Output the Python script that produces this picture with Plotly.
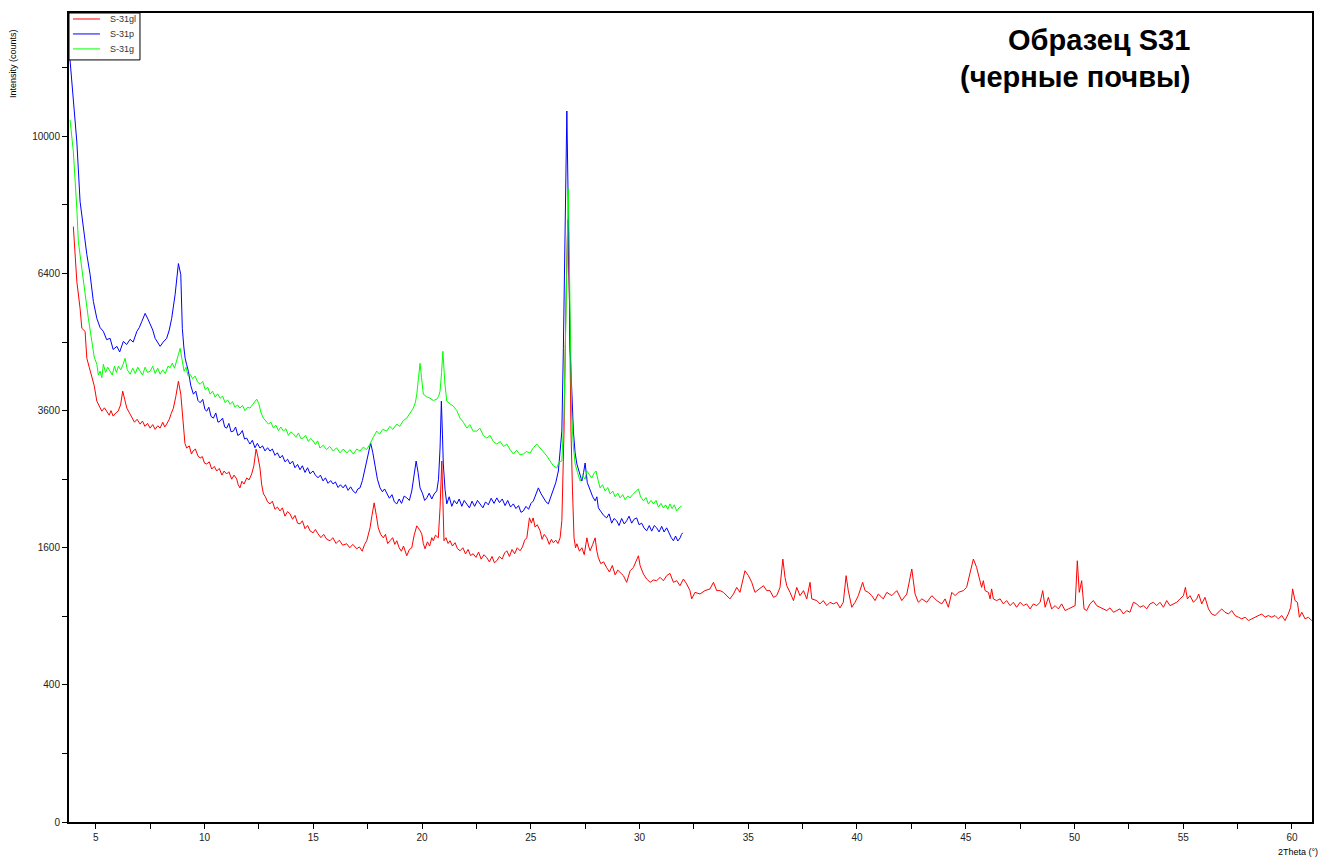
import numpy as np
import plotly.graph_objects as go

# ---- data: (2Theta in degrees, intensity in counts) ----
gl_pts = [
    (3.97, 7541), (4.13, 6215), (4.28, 5610), (4.36, 5184), (4.51, 5121), (4.59, 4575), (4.70, 4400),
    (4.82, 4190), (4.93, 4050), (5.05, 3768), (5.15, 3700), (5.28, 3591), (5.40, 3650), (5.51, 3591),
    (5.62, 3520), (5.70, 3600), (5.80, 3505), (5.92, 3560), (6.03, 3591), (6.14, 3700), (6.24, 3949),
    (6.33, 3800), (6.43, 3644), (6.55, 3560), (6.66, 3470), (6.78, 3400), (6.90, 3450), (7.04, 3368),
    (7.15, 3420), (7.26, 3330), (7.38, 3380), (7.50, 3301), (7.62, 3360), (7.73, 3280), (7.85, 3340),
    (7.96, 3301), (8.08, 3400), (8.17, 3320), (8.26, 3368), (8.38, 3450), (8.47, 3550), (8.57, 3644),
    (8.68, 3850), (8.80, 4133), (8.91, 3894), (9.03, 3251),
    (9.10, 3050), (9.18, 2975), (9.30, 3010), (9.40, 2880), (9.47, 2927), (9.58, 2960), (9.70, 2850),
    (9.80, 2819), (9.90, 2840), (10.00, 2740), (10.10, 2727), (10.22, 2760), (10.33, 2650), (10.45, 2690),
    (10.56, 2621), (10.68, 2660), (10.80, 2560), (10.90, 2620), (11.02, 2577), (11.12, 2610), (11.25, 2500),
    (11.36, 2560), (11.48, 2504), (11.55, 2420), (11.63, 2375), (11.72, 2470), (11.82, 2430), (11.94, 2518),
    (12.05, 2490), (12.17, 2577), (12.27, 2700), (12.37, 2959), (12.45, 2850), (12.55, 2666), (12.63, 2420),
    (12.71, 2290), (12.80, 2250), (12.90, 2180), (13.01, 2153), (13.12, 2190), (13.24, 2080), (13.35, 2110),
    (13.47, 2059), (13.58, 2100), (13.70, 1990), (13.82, 2050), (13.93, 2020), (14.05, 1950), (14.16, 2000),
    (14.28, 1900), (14.39, 1891), (14.50, 1930), (14.62, 1830), (14.74, 1870), (14.85, 1804), (14.99, 1779),
    (15.10, 1820), (15.22, 1767), (15.35, 1720), (15.48, 1760), (15.62, 1700), (15.77, 1683), (15.90, 1720),
    (16.05, 1650), (16.20, 1690), (16.35, 1630), (16.54, 1647), (16.68, 1600), (16.82, 1640), (17.00, 1588),
    (17.12, 1610), (17.25, 1560), (17.36, 1640), (17.46, 1683), (17.61, 1841), (17.70, 2000), (17.80, 2167),
    (17.90, 2000), (17.99, 1841), (18.10, 1760), (18.22, 1718), (18.32, 1760), (18.42, 1650), (18.53, 1683),
    (18.65, 1720), (18.75, 1640), (18.84, 1683), (18.95, 1600), (19.05, 1560), (19.15, 1620), (19.30, 1508),
    (19.42, 1580), (19.53, 1600), (19.64, 1750), (19.76, 1866), (19.88, 1820), (19.99, 1767), (20.06, 1650),
    (20.14, 1588), (20.25, 1670), (20.35, 1620), (20.45, 1720), (20.52, 1683), (20.62, 1750), (20.75, 1718),
    (20.83, 2100), (20.91, 2772), (20.96, 2200), (21.01, 1683), (21.10, 1720), (21.20, 1650), (21.29, 1683),
    (21.40, 1620), (21.52, 1660), (21.63, 1590), (21.75, 1565), (21.88, 1600), (22.00, 1530), (22.12, 1580),
    (22.23, 1510), (22.35, 1531), (22.48, 1490), (22.60, 1550), (22.72, 1470), (22.85, 1520), (22.98, 1486),
    (23.10, 1440), (23.22, 1500), (23.33, 1430), (23.44, 1452), (23.56, 1500), (23.68, 1470), (23.80, 1540),
    (23.90, 1565), (24.02, 1500), (24.14, 1580), (24.26, 1530), (24.38, 1600), (24.51, 1565), (24.62, 1610),
    (24.72, 1690), (24.82, 1718), (24.94, 1968), (25.03, 1900), (25.11, 1968), (25.20, 1850), (25.30, 1880),
    (25.43, 1804), (25.52, 1700), (25.62, 1760), (25.74, 1718), (25.85, 1640), (25.95, 1700), (26.04, 1659),
    (26.15, 1690), (26.25, 1650), (26.35, 1718),
    (26.43, 1930), (26.53, 3251), (26.62, 5765), (26.70, 7718), (26.78, 5765), (26.85, 3251), (26.92, 2332),
    (26.99, 1718), (27.06, 1600), (27.12, 1647), (27.24, 1560), (27.35, 1600), (27.46, 1520), (27.58, 1718),
    (27.66, 1620), (27.73, 1565), (27.85, 1640), (27.96, 1718), (28.04, 1560), (28.11, 1486), (28.22, 1420),
    (28.35, 1440), (28.49, 1376), (28.62, 1330), (28.75, 1400), (28.88, 1300), (29.00, 1350),
    (29.11, 1325), (29.26, 1291), (29.41, 1222), (29.57, 1343), (29.72, 1379), (29.87, 1452), (29.95, 1508),
    (30.03, 1397), (30.18, 1308), (30.33, 1256), (30.49, 1222), (30.64, 1246), (30.79, 1239), (30.95, 1273),
    (31.10, 1239), (31.25, 1291), (31.40, 1315), (31.56, 1222), (31.71, 1239), (31.86, 1188), (32.02, 1256),
    (32.17, 1205), (32.32, 1139), (32.40, 1059), (32.55, 1122), (32.78, 1106), (33.01, 1139), (33.24, 1156),
    (33.40, 1222), (33.55, 1139), (33.70, 1139), (33.86, 1122), (34.01, 1090), (34.16, 1059), (34.32, 1106),
    (34.47, 1171), (34.62, 1122), (34.78, 1256), (34.85, 1343), (35.01, 1291), (35.16, 1222), (35.31, 1122),
    (35.54, 1156), (35.70, 1188), (35.85, 1139), (36.00, 1139), (36.16, 1074), (36.31, 1090), (36.46, 1171),
    (36.59, 1471), (36.69, 1273), (36.77, 1188), (36.92, 1122), (37.08, 1043), (37.23, 1171), (37.38, 1090),
    (37.54, 1139), (37.69, 1059), (37.84, 1222), (37.92, 1059), (38.15, 1043), (38.30, 1012), (38.45, 1043),
    (38.61, 996), (38.76, 1027), (38.91, 1012), (39.07, 1027), (39.22, 975), (39.37, 1027), (39.50, 1291),
    (39.60, 1139), (39.76, 981), (39.91, 1027), (40.06, 1090), (40.26, 1222), (40.37, 1139), (40.52, 1122),
    (40.68, 1090), (40.83, 1043), (40.98, 1106), (41.21, 1059), (41.37, 1122), (41.60, 1090), (41.83, 1139),
    (42.06, 1043), (42.29, 1106), (42.52, 1362), (42.67, 1106), (42.82, 1027), (42.98, 1059), (43.21, 1027),
    (43.44, 1090), (43.67, 1043), (43.90, 1012), (44.05, 1059), (44.20, 981), (44.36, 1122), (44.51, 1090),
    (44.66, 1122), (44.89, 1139), (45.04, 1171), (45.20, 1308), (45.35, 1471), (45.50, 1379), (45.66, 1222),
    (45.73, 1171), (45.81, 1239), (45.89, 1139), (46.04, 1122), (46.12, 1059), (46.19, 1156), (46.27, 1059),
    (46.42, 1043), (46.58, 1059), (46.73, 1012), (46.88, 1043), (47.04, 996), (47.19, 1027), (47.34, 981),
    (47.50, 1027), (47.65, 996), (47.80, 1012), (47.96, 966), (48.11, 1012), (48.26, 996), (48.42, 1027),
    (48.54, 1139), (48.65, 981), (48.80, 1074), (48.95, 966), (49.11, 996), (49.26, 966), (49.41, 1012),
    (49.57, 951), (49.72, 966), (49.87, 981), (50.03, 996), (50.13, 1452), (50.22, 1122), (50.33, 1239),
    (50.44, 966), (50.56, 951), (50.71, 1012), (50.87, 1043), (51.02, 996), (51.17, 981), (51.33, 966),
    (51.48, 951), (51.63, 975), (51.79, 936), (51.94, 951), (52.09, 966), (52.25, 921), (52.40, 951),
    (52.55, 936), (52.71, 1027), (52.86, 1012), (53.01, 981), (53.17, 996), (53.32, 966), (53.47, 1012),
    (53.63, 1027), (53.78, 996), (53.93, 1027), (54.09, 981), (54.24, 1043), (54.39, 996), (54.55, 1012),
    (54.70, 1027), (54.85, 1059), (55.01, 1090), (55.10, 1171), (55.19, 1059), (55.31, 1090), (55.47, 1027),
    (55.62, 1059), (55.71, 1106), (55.85, 1012), (56.00, 1074), (56.16, 966), (56.31, 921), (56.46, 907),
    (56.62, 936), (56.77, 966), (56.92, 936), (57.08, 921), (57.23, 951), (57.38, 907), (57.54, 892),
    (57.69, 878), (57.84, 892), (58.00, 863), (58.15, 878), (58.30, 892), (58.45, 907), (58.61, 921),
    (58.76, 892), (58.91, 907), (59.07, 892), (59.22, 907), (59.37, 878), (59.53, 907), (59.68, 863),
    (59.83, 921), (59.94, 981), (60.03, 1156), (60.14, 1043), (60.25, 1027), (60.34, 892), (60.45, 936),
    (60.60, 878), (60.75, 892), (60.91, 863)]

p_pts = [
    (3.80, 12500), (3.97, 11131), (4.13, 9841), (4.28, 8188), (4.43, 7497), (4.59, 6851), (4.74, 6376),
    (4.89, 5765), (5.05, 5395), (5.20, 5200), (5.35, 5121), (5.50, 4950), (5.66, 4977), (5.80, 4750),
    (5.97, 4813), (6.10, 4700), (6.27, 4915), (6.42, 4850), (6.58, 4956), (6.72, 4900), (6.89, 5121),
    (7.00, 5200), (7.12, 5332), (7.27, 5503), (7.38, 5400), (7.50, 5270), (7.62, 5150), (7.73, 4977),
    (7.85, 4900), (7.96, 4813), (8.10, 4900), (8.26, 4977), (8.38, 5150), (8.49, 5395), (8.65, 5920),
    (8.80, 6635), (8.91, 6376), (8.98, 5184),
    (9.05, 4800), (9.11, 4575), (9.18, 4450), (9.26, 4320), (9.37, 4050), (9.49, 3894), (9.60, 3950),
    (9.70, 3780), (9.80, 3740), (9.92, 3800), (10.02, 3620), (10.10, 3591), (10.20, 3660), (10.30, 3500),
    (10.41, 3470), (10.52, 3560), (10.62, 3400), (10.72, 3420), (10.83, 3470), (10.93, 3320), (11.02, 3301),
    (11.12, 3380), (11.22, 3240), (11.33, 3251), (11.43, 3320), (11.53, 3180), (11.63, 3200), (11.74, 3260),
    (11.84, 3120), (11.94, 3136), (12.02, 3080), (12.09, 3039), (12.20, 3100), (12.32, 2980), (12.43, 3050),
    (12.55, 2975), (12.67, 3010), (12.78, 2930), (12.90, 2980), (13.01, 2927), (13.12, 2960), (13.24, 2860),
    (13.35, 2900), (13.47, 2819), (13.58, 2860), (13.70, 2760), (13.82, 2800), (13.93, 2727), (14.05, 2770),
    (14.16, 2670), (14.28, 2720), (14.39, 2640), (14.50, 2700), (14.62, 2600), (14.74, 2670), (14.85, 2580),
    (14.99, 2621), (15.10, 2560), (15.22, 2520), (15.33, 2560), (15.45, 2475), (15.56, 2520), (15.68, 2440),
    (15.80, 2480), (15.91, 2431), (16.02, 2460), (16.14, 2380), (16.25, 2420), (16.37, 2375), (16.48, 2420),
    (16.60, 2340), (16.72, 2390), (16.83, 2332), (16.95, 2300), (17.05, 2360), (17.15, 2375), (17.26, 2480),
    (17.38, 2666), (17.50, 2850), (17.64, 3055), (17.74, 2900), (17.84, 2727), (17.95, 2500), (18.07, 2375),
    (18.18, 2320), (18.28, 2360), (18.38, 2290), (18.50, 2230), (18.62, 2280), (18.73, 2180), (18.84, 2153),
    (18.95, 2220), (19.06, 2160), (19.18, 2260), (19.30, 2235), (19.42, 2200), (19.53, 2332), (19.63, 2550),
    (19.73, 2772), (19.82, 2600), (19.91, 2375), (20.02, 2300), (20.12, 2200), (20.22, 2235), (20.33, 2300),
    (20.45, 2220), (20.56, 2290), (20.68, 2332), (20.76, 2500), (20.83, 2975), (20.89, 3768), (20.94, 3200),
    (20.98, 2727), (21.06, 2350), (21.14, 2153), (21.25, 2250), (21.37, 2120), (21.48, 2200), (21.60, 2153),
    (21.71, 2220), (21.83, 2120), (21.94, 2200), (22.06, 2153), (22.18, 2100), (22.30, 2190), (22.42, 2120),
    (22.55, 2200), (22.67, 2153), (22.80, 2100), (22.92, 2180), (23.05, 2140), (23.18, 2230), (23.31, 2160),
    (23.44, 2235), (23.56, 2170), (23.69, 2220), (23.82, 2130), (23.94, 2200), (24.07, 2110), (24.20, 2153),
    (24.32, 2090), (24.44, 2130), (24.55, 2040), (24.66, 2059), (24.78, 2120), (24.90, 2080), (25.01, 2160),
    (25.12, 2193), (25.24, 2300), (25.35, 2375), (25.46, 2300), (25.58, 2235), (25.70, 2180), (25.81, 2153),
    (25.92, 2250), (26.04, 2332), (26.15, 2450), (26.27, 2621),
    (26.43, 3251), (26.50, 4774), (26.58, 7845), (26.66, 10755), (26.73, 7845), (26.81, 4774), (26.96, 3251),
    (27.04, 2900), (27.12, 2727), (27.24, 2600), (27.35, 2475), (27.43, 2600), (27.50, 2742), (27.60, 2450),
    (27.73, 2332), (27.85, 2250), (27.96, 2194), (28.04, 2250), (28.11, 2099), (28.22, 2050), (28.35, 2000),
    (28.49, 1968), (28.60, 2020), (28.72, 1900), (28.83, 1960), (28.95, 1930), (29.06, 1870), (29.18, 1960),
    (29.30, 1890), (29.41, 1930), (29.52, 1990), (29.64, 1900), (29.75, 1950), (29.87, 1968), (29.98, 1880),
    (30.10, 1900), (30.21, 1840), (30.33, 1804), (30.45, 1870), (30.56, 1800), (30.68, 1870), (30.79, 1841),
    (30.90, 1790), (31.02, 1860), (31.13, 1790), (31.25, 1841), (31.37, 1760), (31.46, 1720), (31.56, 1683),
    (31.66, 1740), (31.76, 1680), (31.87, 1718), (31.93, 1760), (31.99, 1779)]

g_pts = [
    (3.82, 10486), (3.97, 9555), (4.13, 8001), (4.20, 7166), (4.36, 6517), (4.51, 5921), (4.66, 5395),
    (4.82, 4915), (4.93, 4600), (5.05, 4457), (5.12, 4250), (5.20, 4323), (5.28, 4200), (5.35, 4457),
    (5.45, 4300), (5.55, 4400), (5.66, 4323), (5.76, 4250), (5.86, 4420), (5.95, 4300), (6.04, 4419),
    (6.15, 4350), (6.25, 4450), (6.35, 4575), (6.45, 4350), (6.58, 4265), (6.70, 4380), (6.82, 4280),
    (6.93, 4400), (7.04, 4323), (7.15, 4250), (7.27, 4400), (7.38, 4300), (7.50, 4323), (7.62, 4420),
    (7.73, 4280), (7.85, 4380), (7.96, 4265), (8.08, 4350), (8.20, 4280), (8.32, 4420), (8.42, 4390),
    (8.52, 4480), (8.62, 4380), (8.73, 4575), (8.80, 4650), (8.88, 4774), (8.97, 4500), (9.06, 4323),
    (9.15, 4400), (9.25, 4230), (9.34, 4265), (9.45, 4180), (9.57, 4230), (9.68, 4120), (9.80, 4077),
    (9.92, 4130), (10.03, 3980), (10.15, 4020), (10.26, 3894), (10.37, 3950), (10.49, 3840), (10.60, 3900),
    (10.72, 3821), (10.83, 3860), (10.95, 3740), (11.06, 3790), (11.18, 3711), (11.29, 3760), (11.40, 3660),
    (11.52, 3700), (11.63, 3644), (11.75, 3690), (11.86, 3600), (11.98, 3660), (12.09, 3644), (12.20, 3700),
    (12.30, 3760), (12.40, 3803), (12.50, 3720), (12.60, 3560), (12.71, 3470), (12.82, 3420), (12.94, 3370),
    (13.05, 3400), (13.17, 3301), (13.28, 3350), (13.40, 3260), (13.51, 3320), (13.63, 3251), (13.74, 3290),
    (13.86, 3180), (13.97, 3240), (14.09, 3203), (14.20, 3150), (14.32, 3220), (14.43, 3130), (14.54, 3136),
    (14.65, 3180), (14.77, 3080), (14.88, 3130), (15.00, 3087), (15.10, 3030), (15.20, 3090), (15.31, 2975),
    (15.46, 3020), (15.61, 2950), (15.76, 3000), (15.92, 2927), (16.07, 2980), (16.23, 2900), (16.38, 2960),
    (16.54, 2896), (16.69, 2950), (16.84, 2880), (17.00, 2960), (17.15, 2927), (17.30, 2990), (17.45, 2950),
    (17.61, 3039), (17.76, 3150), (17.92, 3251), (18.05, 3200), (18.20, 3280), (18.38, 3251), (18.52, 3330),
    (18.66, 3280), (18.84, 3368), (18.98, 3330), (19.14, 3430), (19.30, 3470), (19.45, 3560), (19.60, 3644),
    (19.70, 3750), (19.76, 3894), (19.84, 4200), (19.91, 4477), (19.98, 4200), (20.06, 3894), (20.20, 3850),
    (20.37, 3821), (20.52, 3780), (20.68, 3803), (20.76, 3850), (20.83, 3949), (20.90, 4300), (20.96, 4713),
    (21.05, 4100), (21.14, 3768), (21.29, 3720), (21.44, 3679), (21.60, 3600), (21.75, 3470), (21.90, 3400),
    (22.06, 3301), (22.20, 3360), (22.35, 3250), (22.52, 3251), (22.66, 3300), (22.82, 3180), (22.98, 3136),
    (23.13, 3180), (23.28, 3080), (23.44, 3039), (23.60, 3080), (23.75, 3000), (23.90, 3039), (24.05, 2950),
    (24.20, 2881), (24.35, 2940), (24.50, 2870), (24.66, 2881), (24.80, 2920), (24.97, 2896), (25.12, 2980),
    (25.28, 3039), (25.43, 2980), (25.58, 2927), (25.74, 2850), (25.89, 2772), (26.04, 2700), (26.20, 2666),
    (26.30, 2760), (26.43, 2772), (26.53, 3540), (26.62, 5479), (26.73, 8531), (26.81, 5479), (26.88, 3540),
    (26.96, 3000), (27.04, 2727), (27.15, 2600), (27.27, 2475), (27.40, 2550), (27.50, 2500), (27.58, 2621),
    (27.70, 2560), (27.80, 2518), (27.90, 2580), (28.00, 2621), (28.10, 2480), (28.19, 2375), (28.30, 2420),
    (28.42, 2330), (28.54, 2380), (28.65, 2290), (28.77, 2330), (28.88, 2250), (29.00, 2300), (29.11, 2235),
    (29.23, 2280), (29.34, 2210), (29.46, 2260), (29.57, 2235), (29.68, 2280), (29.80, 2320), (29.95, 2360),
    (30.05, 2250), (30.18, 2194), (30.30, 2240), (30.41, 2150), (30.53, 2200), (30.64, 2153), (30.76, 2200),
    (30.87, 2110), (30.99, 2160), (31.10, 2099), (31.20, 2140), (31.30, 2080), (31.40, 2153), (31.50, 2090),
    (31.60, 2140), (31.71, 2059), (31.82, 2100), (31.94, 2126)]

names = ["S-31gl", "S-31p", "S-31g"]
colors = ["#FF0000", "#0000FF", "#00FF00"]

y_tick_counts = [0, 400, 1600, 3600, 6400, 10000]
x_tick_labels = [5, 10, 15, 20, 25, 30, 35, 40, 45, 50, 55, 60]

fig = go.Figure()
for nm, c, pts in zip(names, colors, [gl_pts, p_pts, g_pts]):
    xs = [p[0] for p in pts]
    ys = np.sqrt(np.array([p[1] for p in pts], dtype=float))   # square-root intensity scale
    fig.add_trace(go.Scatter(x=xs, y=ys, mode="lines", name=nm,
                             line=dict(color=c, width=1), showlegend=False))

# sqrt-scaled y axis: labelled every 20 sqrt units, minor ticks every 10
yvals = list(range(0, 120, 10))
ytext = [str(v * v) if v * v in y_tick_counts else "" for v in yvals]

xvals = [v / 2 for v in range(5, 123, 5)]
xtext = [str(int(v)) if (v == int(v) and int(v) in x_tick_labels) else "" for v in xvals]

font = "Liberation Sans, Arial, sans-serif"

# compact boxed legend (top-left corner of the plot)
shapes = [dict(type="rect", xref="paper", yref="paper", x0=0, x1=0.0571, y0=0.942, y1=1.0,
               line=dict(color="black", width=1), fillcolor="white", layer="above")]
annotations = []
leg_y = [0.9926, 0.9741, 0.9556]
for nm, c, ly in zip(names, colors, leg_y):
    shapes.append(dict(type="line", xref="paper", yref="paper", x0=0.0032, x1=0.0249, y0=ly, y1=ly,
                       line=dict(color=c, width=1), layer="above"))
    annotations.append(dict(text=nm, x=0.0314, y=ly, xref="paper", yref="paper", xanchor="left",
                            yanchor="middle", showarrow=False,
                            font=dict(family=font, size=9, color="#333")))

annotations += [
    dict(text="<b>Образец S31</b>", x=0.9035, y=0.967, xref="paper", yref="paper",
         xanchor="right", yanchor="middle", showarrow=False,
         font=dict(family=font, size=29, color="black")),
    dict(text="<b>(черные почвы)</b>", x=0.9035, y=0.921, xref="paper", yref="paper",
         xanchor="right", yanchor="middle", showarrow=False,
         font=dict(family=font, size=29, color="black")),
    dict(text="Intensity (counts)", x=-0.045, y=0.937, xref="paper", yref="paper",
         xanchor="center", yanchor="middle", textangle=-90, showarrow=False,
         font=dict(family=font, size=9, color="black")),
    dict(text="2Theta (°)", x=0.9887, y=-0.037, xref="paper", yref="paper",
         xanchor="center", yanchor="middle", showarrow=False,
         font=dict(family=font, size=9, color="black")),
]

fig.update_layout(
    width=1332, height=860,
    margin=dict(l=69, r=20, t=11, b=38),
    paper_bgcolor="white", plot_bgcolor="white",
    font=dict(family=font, size=10, color="black"),
    showlegend=False,
    xaxis=dict(range=[3.77, 60.92], tickmode="array", tickvals=xvals, ticktext=xtext,
               ticks="outside", ticklen=5, tickwidth=1, tickcolor="black",
               showline=True, linecolor="black", linewidth=2, mirror=True,
               showgrid=False, zeroline=False, tickfont=dict(size=10, color="#222")),
    yaxis=dict(range=[0, 118], tickmode="array", tickvals=yvals, ticktext=ytext,
               ticks="outside", ticklen=5, tickwidth=1, tickcolor="black",
               showline=True, linecolor="black", linewidth=2, mirror=True,
               showgrid=False, zeroline=False, tickfont=dict(size=10, color="#222")),
    shapes=shapes,
    annotations=annotations,
)

fig.write_html("out.html")
